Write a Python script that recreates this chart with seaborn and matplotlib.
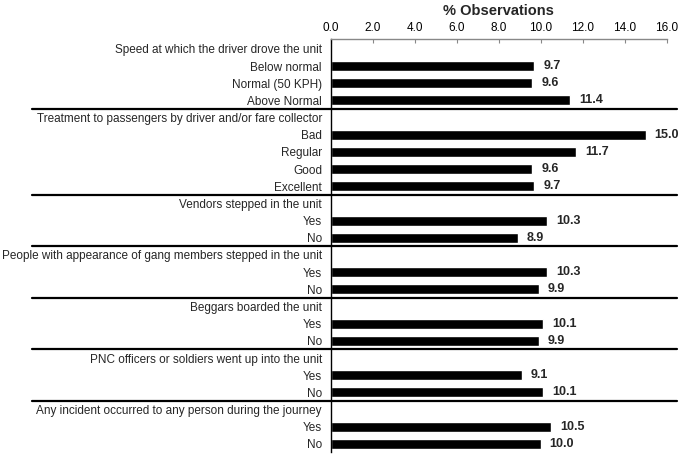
import numpy as np
import pandas as pd
import matplotlib
matplotlib.use("Agg")
import matplotlib.pyplot as plt
from matplotlib.lines import Line2D
from matplotlib.transforms import blended_transform_factory
from matplotlib.ticker import FixedLocator, FormatStrFormatter
import seaborn as sns

# ---- data ----
group_titles = [
    "Speed at which the driver drove the unit",
    "Treatment to passengers by driver and/or fare collector",
    "Vendors stepped in the unit",
    "People with appearance of gang members stepped in the unit",
    "Beggars boarded the unit",
    "PNC officers or soldiers went up into the unit",
    "Any incident occurred to any person during the journey",
]
group_items = [
    ["Below normal", "Normal (50 KPH)", "Above Normal"],
    ["Bad", "Regular", "Good", "Excellent"],
    ["Yes", "No"],
    ["Yes", "No"],
    ["Yes", "No"],
    ["Yes", "No"],
    ["Yes", "No"],
]
group_values = [
    [9.7, 9.6, 11.4],
    [15.0, 11.7, 9.6, 9.7],
    [10.3, 8.9],
    [10.3, 9.9],
    [10.1, 9.9],
    [9.1, 10.1],
    [10.5, 10.0],
]
x_ticks = [0, 2, 4, 6, 8, 10, 12, 14, 16]
x_title = "% Observations"

# ---- build table ----
order, labels, rows = [], [], []
sep_after = []
for gi, (title, items, vals) in enumerate(zip(group_titles, group_items, group_values)):
    hk = f"g{gi}_header"
    order.append(hk)
    labels.append(title)
    for it, v in zip(items, vals):
        k = f"g{gi}_{it}"
        order.append(k)
        labels.append(it)
        rows.append({"key": k, "value": v})
    sep_after.append(len(order) - 1)
df = pd.DataFrame(rows)
n = len(order)

sns.set_style("white")
plt.rcParams["font.family"] = ["Liberation Sans", "DejaVu Sans"]

fig = plt.figure(figsize=(6.85, 4.55), dpi=100)
W, H = 685, 455
left_px, right_px, top_px = 331, 666.5, 39
row_px = 17.17
ylim_top = -0.58
ylim_bot = n - 0.5
bottom_px = top_px + (ylim_bot - ylim_top) * row_px
ax = fig.add_axes([left_px / W, 1 - bottom_px / H, (right_px - left_px) / W,
                   (bottom_px - top_px) / H])

sns.barplot(data=df, x="value", y="key", order=order, orient="h",
            color="black", saturation=1, width=0.58, errorbar=None, ax=ax)

ax.set_xlim(0, 16)
ax.set_ylim(ylim_bot, ylim_top)

# x axis on top
ax.xaxis.tick_top()
ax.xaxis.set_label_position("top")
ax.set_xticks(x_ticks)
ax.xaxis.set_major_formatter(FormatStrFormatter("%.1f"))
ax.tick_params(axis="x", direction="in", length=3, width=0.8, color="#888888",
               labelsize=8.5, pad=3.5, labelcolor="black")
ax.set_xlabel(x_title, fontsize=10.5, fontweight="bold", labelpad=5)

# y axis
ax.set_yticks(range(n))
ax.set_yticklabels(labels)
ax.set_ylabel("")
ax.tick_params(axis="y", which="major", length=0, labelsize=8.5, pad=6.5)
ax.yaxis.set_minor_locator(FixedLocator(np.arange(-0.5, n, 1.0)))
ax.tick_params(axis="y", which="minor", direction="out", length=3, width=0.8,
               color="#555555")

for s in ["right", "bottom"]:
    ax.spines[s].set_visible(False)
ax.spines["top"].set_color("#888888")
ax.spines["top"].set_linewidth(1.0)
ax.spines["left"].set_color("black")
ax.spines["left"].set_linewidth(1.0)

# value labels
for c in ax.containers:
    ax.bar_label(c, fmt="%.1f", padding=6.5, fontsize=9, fontweight="bold")

# group separators
tr = blended_transform_factory(fig.transFigure, ax.transData)
for idx in sep_after[:-1]:
    y = idx + 0.5
    fig.add_artist(Line2D([32 / W, 677 / W], [y, y], transform=tr,
                          color="black", lw=1.6, clip_on=False))

fig.savefig("out.png", dpi=100)
